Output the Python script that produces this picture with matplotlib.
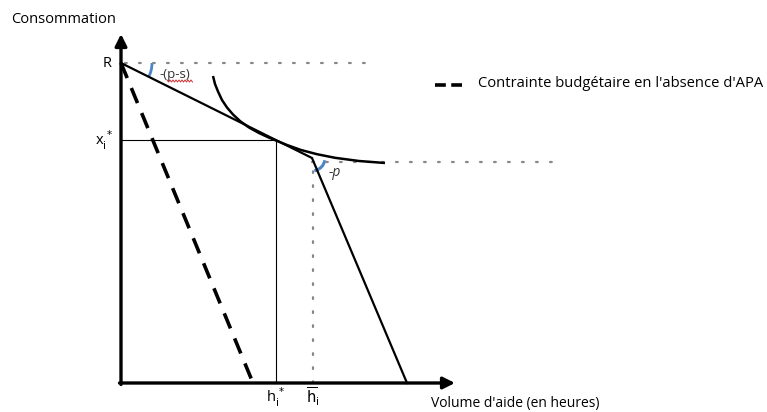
import matplotlib
matplotlib.use("Agg")
import matplotlib.pyplot as plt
import numpy as np
from matplotlib.patches import Arc

# Data (origin = axes intersection, units ~ pixels)
R = 320
x_star = 243
h_star = 155
h_bar = 191
kink_y = 225
steep_intercept = 286
dashed_intercept = 132
curve_x = [92, 94, 97, 101, 106, 112, 119, 128, 138, 147, 155, 166, 180, 196, 214, 238, 264]
curve_y = [307, 299, 291.5, 283, 275.5, 268.5, 262, 255.5, 250, 245.8, 242.5, 238, 233, 228.8, 225.2, 222, 220]
dot_right_end = 441
dot_top_end = 251
axis_x_end = 334
axis_y_end = 349

plt.rcParams['font.family'] = ['Open Sans', 'DejaVu Sans']
fig = plt.figure(figsize=(7.67, 4.12), dpi=100)
ax = fig.add_axes([0, 0, 1, 1])
ax.set_xlim(-121, 646)
ax.set_ylim(-29, 383)
ax.axis('off')

# Axes arrows
ax.annotate('', xy=(0, axis_y_end), xytext=(0, -1.5),
            arrowprops=dict(arrowstyle='-|>,head_width=0.35,head_length=0.7', lw=2.4, color='black', shrinkA=0, shrinkB=0))
ax.annotate('', xy=(axis_x_end, 0), xytext=(-1.5, 0),
            arrowprops=dict(arrowstyle='-|>,head_width=0.35,head_length=0.7', lw=2.4, color='black', shrinkA=0, shrinkB=0))

# Dotted guides
dot = dict(color='#888888', lw=1.6, linestyle=(0, (0.8, 5.5)), dash_capstyle='round')
ax.plot([4, dot_top_end], [R, R], **dot)
ax.plot([h_bar, dot_right_end], [kink_y - 4, kink_y - 4], **dot)
ax.plot([h_bar + 1, h_bar + 1], [0, kink_y - 6], **dot)

# Budget constraint with APA
ax.plot([0, h_bar, steep_intercept], [R, kink_y, 0], color='black', lw=1.6, solid_joinstyle='miter')
# Budget constraint without APA
ax.plot([0, dashed_intercept], [R, 0], color='black', lw=2.6, linestyle=(0, (4.5, 3.0)))

# Optimum lines
ax.plot([0, h_star], [x_star, x_star], color='black', lw=0.8)
ax.plot([h_star, h_star], [0, x_star], color='black', lw=0.8)

# Indifference curve
ax.plot(curve_x, curve_y, color='black', lw=1.8, solid_capstyle='butt')

# Angle arcs
ax.add_patch(Arc((0, R), 62, 62, theta1=-27, theta2=0, color='#4a86c8', lw=2))
ax.add_patch(Arc((h_bar, kink_y), 26, 26, theta1=-80, theta2=-10, color='#4a86c8', lw=2.2))

# Labels
fs = 10.5
ax.text(-110, 364, 'Consommation', fontsize=fs, va='center', ha='left')
ax.text(-9, R, 'R', fontsize=fs, va='center', ha='right')
ax.text(-8, x_star, r'x$_{\rm i}^{\,*}$', fontsize=fs, va='center', ha='right')
ax.text(h_star, -14, r'h$_{\rm i}^{\,*}$', fontsize=fs, va='center', ha='center')
ax.text(h_bar + 1, -14, r'$\overline{\rm h}_{\rm i}$', fontsize=fs, va='center', ha='center')
ax.text(38, 309, '-(p-s)', fontsize=9.5, va='center', ha='left', color='#333333')
# spell-check squiggle
sq_x = np.arange(46, 73, 1.5)
ax.plot(sq_x, 302 + 1.0 * np.where(np.arange(len(sq_x)) % 2 == 0, 1, -1), color='#d03030', lw=0.7)
ax.text(208, 211, '-p', fontsize=10, va='center', ha='left', color='#333333', style='italic')
ax.text(310, -21, "Volume d'aide (en heures)", fontsize=10, va='center', ha='left')

# Legend
ax.plot([314, 341], [298, 298], color='black', lw=2.6, linestyle=(0, (3.0, 1.5)))
ax.text(357, 300, "Contrainte budgétaire en l'absence d'APA", fontsize=10.6, va='center', ha='left')

fig.savefig('out.png', dpi=100)
